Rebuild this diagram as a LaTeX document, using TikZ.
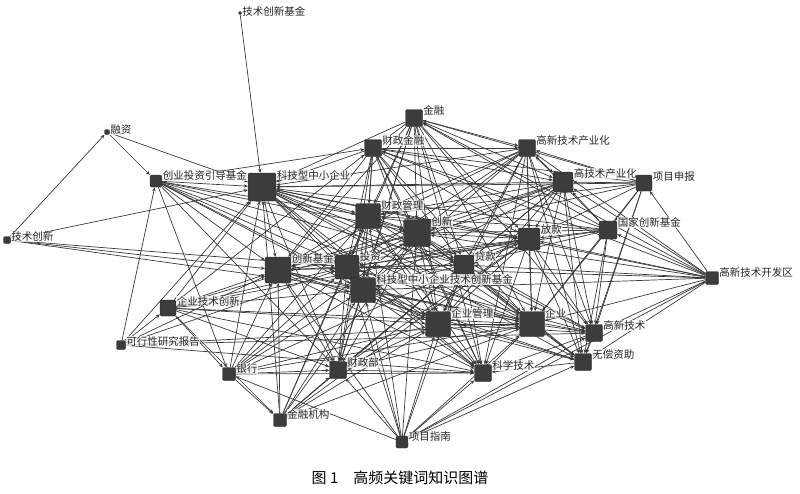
\documentclass[tikz,border=0pt]{standalone}
\usepackage{fontspec}
\setmainfont{Noto Sans CJK SC}
\usetikzlibrary{arrows.meta,backgrounds}
\definecolor{NodeGray}{HTML}{3C3C3C}
\definecolor{EdgeGray}{HTML}{3A3A3A}

\begin{document}
\begin{tikzpicture}[x=1pt,y=1pt,line cap=round,line join=round,
    kw/.style={rectangle,rounded corners=1.5pt,fill=NodeGray,draw=black!85,
      line width=0.4pt,minimum size=#1pt,inner sep=0pt},
    lbl/.style={anchor=west,inner sep=0.4pt,fill=white,fill opacity=0.75,
      text opacity=1,text=black!85,font=\fontsize{10.5}{10.5}\selectfont},
    edge/.style={draw=EdgeGray,line width=0.7pt,-{Stealth[length=4pt,width=3.4pt]}}]
  \useasboundingbox (0,0) rectangle (800,-493);
  % keywords: name/x/y/size/text
  \foreach \n/\x/\y/\s/\t in {
      jscxjj/240/13/3/技术创新基金, rz/107/132/5/融资, jscx/7/240/7/技术创新,
      cyjj/156/181/12/创业投资引导基金, kjxqy/262/187/28/科技型中小企业,
      czjr/373/148/17/财政金融, jr/414/118/17/金融, gxcyh/527/148/17/高新技术产业化,
      gjcyh/563/182/20/高技术产业化, xmsb/644/183/16/项目申报,
      czgl/368/216/25/财政管理, cx/417/233/27/创新, fk/529/239/22/放款,
      gjjj/608/230/18/国家创新基金, cxjj/278/270/26/创新基金, tz/347/267/24/投资,
      dk/464/265/20/贷款, kjjj/363/290/25/科技型中小企业技术创新基金,
      kfq/712/278/13/高新技术开发区, qyjs/168/308/16/企业技术创新,
      kxx/121/345/9/可行性研究报告, qygl/438/324/25/企业管理, qy/532/324/25/企业,
      gxjs/594/333/17/高新技术, wczz/583/362/17/无偿资助, yh/229/374/13/银行,
      czb/338/370/17/财政部, kxjs/483/373/17/科学技术, jrjg/280/420/13/金融机构,
      xmzn/402/442/12/项目指南}
    \node[kw=\s,label={[lbl]40:\t}] (\n) at (\x,-\y) {};
  % links
  \begin{pgfonlayer}{background}
    \foreach \a/\bl in {
        jscxjj/{kjxqy}, jscx/{rz,kjxqy,cxjj,tz,kjjj}, rz/{kjxqy,cyjj},
        cyjj/{kjxqy,czjr,czgl,cx,cxjj,tz,kjjj,dk,qygl,qy,yh,czb},
        qyjs/{kjxqy,czjr,cxjj,tz,kjjj,cx,fk,qygl,qy,yh,jrjg,czb,kxjs},
        kxx/{kjxqy,cyjj,cxjj,tz,qyjs,qy,gxjs,kxjs},
        yh/{kjxqy,cxjj,tz,kjjj,czgl,cx,fk,qygl,qy,czb,kxjs,jrjg},
        jrjg/{kjxqy,cxjj,tz,kjjj,czgl,cx,dk,fk,qygl,qy,czb},
        xmzn/{cxjj,tz,kjjj,czgl,cx,dk,qygl,qy,gxjs,wczz,czb,kxjs,kfq,yh},
        kfq/{jr,czjr,gxcyh,gjcyh,xmsb,gjjj,cx,fk,dk,kjjj,tz,kjxqy,qy,gxjs,wczz},
        xmsb/{jr,czjr,gxcyh,gjcyh,gjjj,cx,fk,czgl,kjxqy,qy,gxjs,wczz},
        gjjj/{gxcyh,gjcyh,jr,czjr,fk,cx,dk,tz,kjxqy,czgl,qy,gxjs,wczz},
        jr/{czjr,gxcyh,gjcyh,kjxqy,czgl,cx,fk,cxjj,tz,kjjj,dk,qygl,qy,kxjs,czb,gxjs},
        czjr/{kjxqy,gxcyh,gjcyh,czgl,cx,fk,cxjj,tz,kjjj,dk,qygl,qy,czb,kxjs},
        gxcyh/{kjxqy,gjcyh,czgl,cx,fk,cxjj,tz,kjjj,dk,qygl,qy,gxjs,wczz,kxjs},
        gjcyh/{kjxqy,czgl,cx,fk,cxjj,tz,kjjj,dk,qygl,qy,gxjs,wczz,czb},
        kjxqy/{czgl,cx,fk,cxjj,tz,kjjj,dk,qygl,qy,gxjs,wczz,czb,kxjs},
        czgl/{cx,fk,cxjj,tz,kjjj,dk,qygl,qy,czb,kxjs},
        cx/{fk,cxjj,tz,kjjj,dk,qygl,qy,gxjs,wczz,czb,kxjs},
        fk/{cxjj,tz,kjjj,dk,qygl,qy,gxjs,wczz,czb,kxjs},
        cxjj/{tz,kjjj,dk,qygl,qy,czb,kxjs,wczz},
        tz/{kjjj,dk,qygl,qy,gxjs,czb,kxjs}, dk/{kjjj,qygl,qy,gxjs,wczz,czb,kxjs},
        kjjj/{qygl,qy,gxjs,wczz,czb,kxjs}, qygl/{qy,gxjs,wczz,czb,kxjs},
        qy/{gxjs,wczz,kxjs,czb}, gxjs/{wczz,kxjs}, wczz/{kxjs}, czb/{kxjs}}
      \foreach \b in \bl
        \draw[edge] (\a) -- (\b);
  \end{pgfonlayer}
  \node[font=\fontsize{15}{15}\selectfont] (caption) at (400,-478) {图 1\hspace{1em}高频关键词知识图谱};
\end{tikzpicture}
\end{document}
